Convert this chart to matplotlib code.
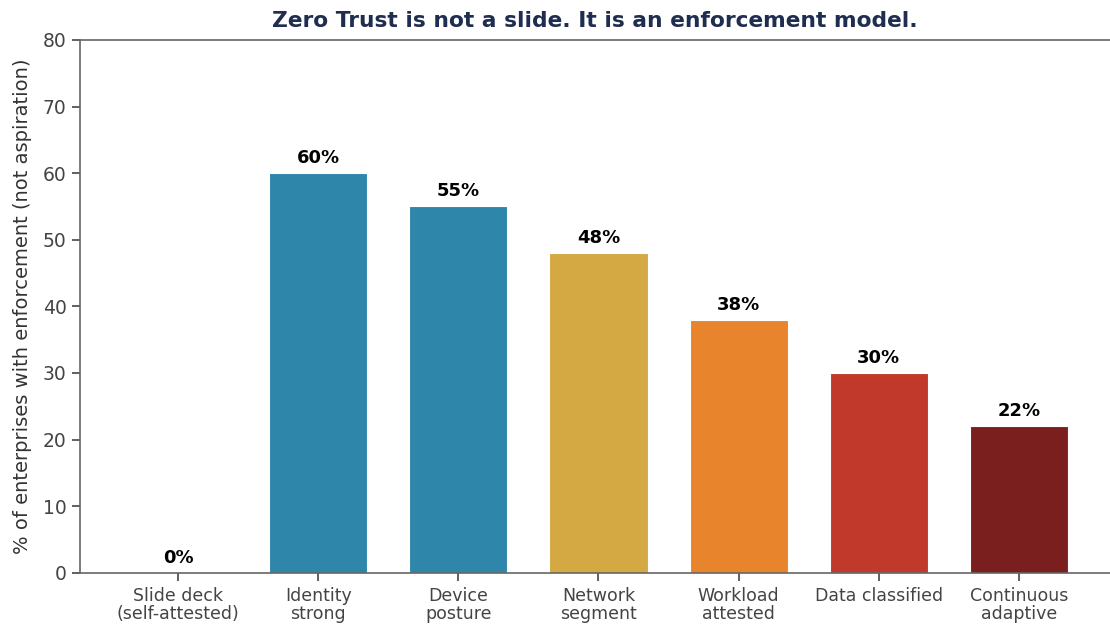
import matplotlib
matplotlib.use("Agg")
import matplotlib.pyplot as plt

# Datos
categorias = ["Slide deck\n(self-attested)", "Identity\nstrong", "Device\nposture",
              "Network\nsegment", "Workload\nattested", "Data classified",
              "Continuous\nadaptive"]
valores = [0, 60, 55, 48, 38, 30, 22]
colores = ["#2e86ab", "#2e86ab", "#2e86ab", "#d4a843", "#e8842c", "#c0392b", "#7b1e1e"]

fig = plt.figure(figsize=(11.1, 6.24), dpi=100)
ax = fig.add_axes([0.072, 0.082, 0.928, 0.854])

x = range(len(categorias))
barras = ax.bar(x, valores, width=0.7, color=colores, edgecolor="white", linewidth=0.8)

# Etiquetas de valores
for xi, v in zip(x, valores):
    ax.text(xi, v + 0.9, f"{v}%", ha="center", va="bottom",
            fontsize=13, fontweight="bold", color="black")

ax.set_xticks(list(x))
ax.set_xticklabels(categorias, fontsize=12.5, color="#444444", linespacing=0.95)
ax.tick_params(axis="y", labelsize=13.5, colors="#444444", length=5.5, width=1.2, pad=4)
ax.tick_params(axis="x", colors="#444444", length=5.5, width=1.2, pad=5)
ax.set_ylim(0, 80)
ax.set_xlim(-0.7, 6.65)
ax.set_ylabel("% of enterprises with enforcement (not aspiration)", fontsize=14,
              color="#333333", labelpad=8)
ax.set_title("Zero Trust is not a slide. It is an enforcement model.",
             fontsize=15.7, fontweight="bold", color="#1f2d50", pad=9)

for s in ["left", "bottom", "top"]:
    ax.spines[s].set_color("#666666")
    ax.spines[s].set_linewidth(1.2)
ax.spines["right"].set_visible(False)

fig.savefig("out.png", dpi=100)
